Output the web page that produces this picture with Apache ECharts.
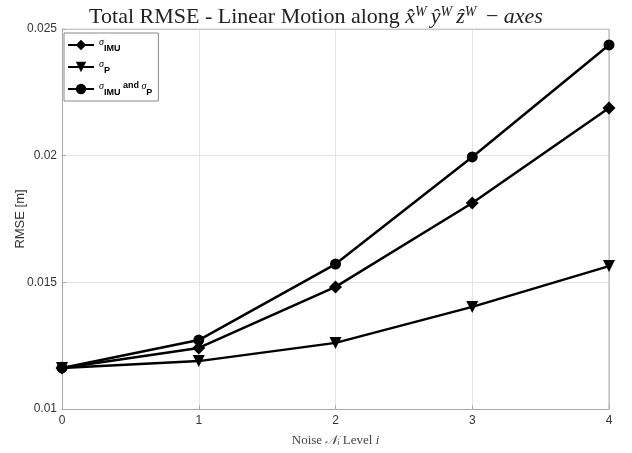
<!DOCTYPE html>
<html>
<head>
<meta charset="utf-8">
<script src="https://cdn.jsdelivr.net/npm/echarts@6/dist/echarts.min.js"></script>
<style>
  html, body { margin: 0; padding: 0; background: #fff; }
  #chart { width: 632px; height: 453px; }
</style>
</head>
<body>
<div id="chart"></div>
<script>
// noise levels
const levels = [0, 1, 2, 3, 4];
// RMSE values
const rmseImu = [0.01162, 0.01241, 0.01482, 0.01813, 0.02188];
const rmseP = [0.01162, 0.01189, 0.01261, 0.01403, 0.01564];
const rmseBoth = [0.01162, 0.01272, 0.01572, 0.01995, 0.02437];
const yTicks = [0.01, 0.015, 0.02, 0.025];

const chart = echarts.init(document.getElementById('chart'));

const pair = arr => arr.map((v, i) => [levels[i], v]);

const lineSeries = (name, data, symbol, size, rotate) => ({
  name: name,
  type: 'line',
  data: pair(data),
  symbol: symbol,
  symbolSize: size,
  symbolRotate: rotate || 0,
  lineStyle: { width: 2.5, color: '#000' },
  itemStyle: { color: '#000' },
  animation: false
});

const serif = 'Liberation Serif, Times New Roman, serif';
const sans = 'Liberation Sans, Arial, sans-serif';

const option = {
  backgroundColor: '#fff',
  title: {
    text: '{t|Total RMSE - Linear Motion along }{m|x̂}{s|W}{m|ŷ}{s|W}{m|ẑ}{s|W}{t| − }{m|axes}',
    left: 'center',
    top: 0,
    textStyle: {
      fontWeight: 'normal',
      rich: {
        t: { fontFamily: serif, fontSize: 22, color: '#222' },
        m: { fontFamily: serif, fontSize: 22, fontStyle: 'italic', color: '#222' },
        s: { fontFamily: serif, fontSize: 14, fontStyle: 'italic', color: '#222', verticalAlign: 'top', padding: [0, 4, 10, 0] }
      }
    }
  },
  legend: {
    orient: 'vertical',
    left: 64,
    top: 33,
    backgroundColor: '#fff',
    borderColor: '#888',
    borderWidth: 1,
    borderRadius: 0,
    padding: [4, 6, 4, 3],
    itemGap: 6,
    itemWidth: 26,
    itemHeight: 13,
    data: ['imu', 'p', 'both'],
    formatter: function (name) {
      if (name === 'imu') return '{g|σ}{b|IMU}';
      if (name === 'p') return '{g|σ}{b|P}';
      return '{g|σ}{b|IMU}{a| and }{g|σ}{b|P}';
    },
    textStyle: {
      rich: {
        g: { fontFamily: serif, fontStyle: 'italic', fontSize: 10, color: '#000', verticalAlign: 'top', padding: [0, 0, 5, 0] },
        b: { fontFamily: sans, fontWeight: 'bold', fontSize: 9, color: '#000', verticalAlign: 'bottom', padding: [7, 0, 0, 0] },
        a: { fontFamily: sans, fontWeight: 'bold', fontSize: 9, color: '#000', verticalAlign: 'top', padding: [0, 0, 5, 0] }
      }
    }
  },
  grid: {
    left: 62,
    right: 23,
    top: 29,
    bottom: 44,
    outerBoundsMode: 'none'
  },
  xAxis: {
    type: 'value',
    min: 0,
    max: 4,
    interval: 1,
    name: '{t|Noise }{m|𝒩}{s|i}{t| Level }{m|i}',
    nameLocation: 'middle',
    nameGap: 25,
    nameMoveOverlap: false,
    nameTextStyle: {
      rich: {
        t: { fontFamily: serif, fontSize: 13, color: '#444' },
        m: { fontFamily: serif, fontSize: 13, fontStyle: 'italic', color: '#444' },
        s: { fontFamily: serif, fontSize: 8, fontStyle: 'italic', color: '#444', verticalAlign: 'bottom', padding: [5, 0, 0, 0] }
      }
    },
    axisLine: { show: true, lineStyle: { color: '#aaa' } },
    axisTick: { show: true, inside: true, length: 4, lineStyle: { color: '#aaa' } },
    axisLabel: { color: '#333', fontSize: 12, fontFamily: sans, margin: 6 },
    splitLine: { show: true, lineStyle: { color: '#e4e4e4' } }
  },
  yAxis: {
    type: 'value',
    min: yTicks[0],
    max: yTicks[yTicks.length - 1],
    interval: 0.005,
    name: 'RMSE [m]',
    nameLocation: 'middle',
    nameGap: 35,
    nameMoveOverlap: false,
    nameTextStyle: { fontFamily: sans, fontSize: 13, color: '#333' },
    axisLine: { show: true, lineStyle: { color: '#aaa' } },
    axisTick: { show: true, inside: true, length: 4, lineStyle: { color: '#aaa' } },
    axisLabel: {
      color: '#333',
      fontSize: 12,
      fontFamily: sans,
      margin: 5,
      formatter: v => String(parseFloat(v.toFixed(3)))
    },
    splitLine: { show: true, lineStyle: { color: '#e4e4e4' } }
  },
  series: [
    lineSeries('imu', rmseImu, 'diamond', 13),
    lineSeries('p', rmseP, 'triangle', 12, 180),
    lineSeries('both', rmseBoth, 'circle', 11),
    // plot box top/right border
    {
      type: 'line',
      data: [[0, 0.025], [4, 0.025], [4, 0.01]],
      symbol: 'none',
      silent: true,
      lineStyle: { width: 1, color: '#aaa' },
      animation: false,
      z: 1
    }
  ]
};

chart.setOption(option);
</script>
</body>
</html>
